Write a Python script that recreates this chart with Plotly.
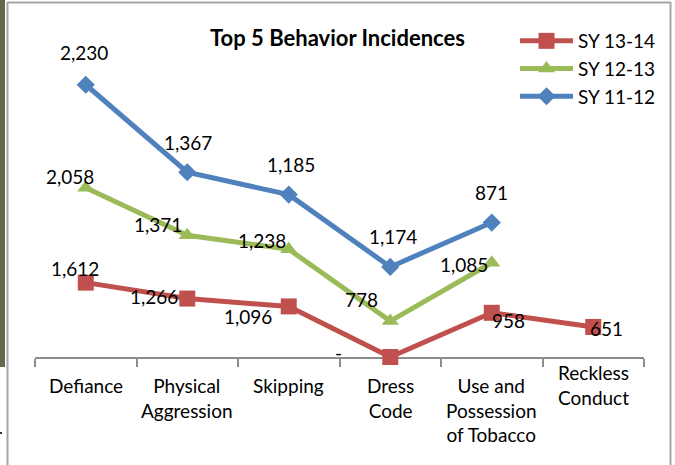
import plotly.graph_objects as go

# ---------------- data ----------------
categories = ["Defiance", "Physical Aggression", "Skipping", "Dress Code",
              "Use and Possession of Tobacco", "Reckless Conduct"]
tick_labels = ["Defiance", "Physical<br>Aggression", "Skipping", "Dress<br>Code",
               "Use and<br>Possession<br>of Tobacco", "Reckless<br>Conduct"]
series_names = ["SY 13-14", "SY 12-13", "SY 11-12"]
sy_13_14 = [1612, 1266, 1096, 0, 958, 651]
sy_12_13 = [2058, 1371, 1238, 778, 1085, None]
sy_11_12 = [2230, 1367, 1185, 1174, 871, None]
title_text = "Top 5 Behavior Incidences"

# ---------------- style ----------------
FONT = "Lato, Liberation Sans, Arial, sans-serif"
colors = ["#C0504D", "#9BBB59", "#4F81BD"]
symbols = ["square", "triangle-up", "diamond"]
marker_sizes = [16, 15, 14]
# label offsets (px, screen: +x right, +y down)
label_offsets = [
    [(-11, -14), (-33, -2), (-41, 10), (-52, -5), (17, 8), (13, 2)],
    [(-16, -11), (-29, -11), (-27, -9), (-29, -22), (-28, 2), None],
    [(-2, -32), (1, -30), (2, -30), (3, -30), (0, -30), None],
]
cat_label_shift = [-15, -15, -15, -15, -15, -2]

W, H = 675, 465
ML, MR, MT, MB = 35, 31, 34, 108
PW, PH = W - ML - MR, H - MT - MB
YMAX = 7000


def px2x(px):
    return (px - ML) / PW


def py2y(py):
    return (H - MB - py) / PH


# stacked (Excel "stacked line") cumulative values
series = [sy_13_14, sy_12_13, sy_11_12]
stacked = []
base = [0] * len(categories)
for vals in series:
    cum = []
    for i, v in enumerate(vals):
        if v is None or base[i] is None:
            cum.append(None)
        else:
            cum.append(base[i] + v)
    stacked.append(cum)
    base = cum

fig = go.Figure()
for k, (name, vals, cum) in enumerate(zip(series_names, series, stacked)):
    xs = [c for c, v in zip(categories, cum) if v is not None]
    ys = [v for v in cum if v is not None]
    fig.add_trace(go.Scatter(
        x=xs, y=ys, name=name, mode="lines+markers",
        line=dict(color=colors[k], width=5),
        marker=dict(symbol=symbols[k], size=marker_sizes[k], color=colors[k],
                    line=dict(width=0)),
        cliponaxis=False, hoverinfo="skip",
    ))

annotations = []
for k, (vals, cum) in enumerate(zip(series, stacked)):
    for i, (v, c) in enumerate(zip(vals, cum)):
        if v is None:
            continue
        dx, dy = label_offsets[k][i]
        annotations.append(dict(
            x=categories[i], y=c, xref="x", yref="y",
            text=(f"{v:,}" if v else "-"), showarrow=False,
            xshift=dx, yshift=-dy,
            font=dict(family=FONT, size=19, color="#000000"),
        ))

for i, (cat, lab) in enumerate(zip(categories, tick_labels)):
    annotations.append(dict(
        x=cat, y=0, xref="x", yref="y", text=lab, showarrow=False,
        yanchor="top", yshift=cat_label_shift[i], align="center",
        font=dict(family=FONT, size=19, color="#000000"),
    ))

shapes = [
    # dark strip at left edge
    dict(type="rect", xref="paper", yref="paper", x0=px2x(0), x1=px2x(5),
         y0=py2y(0), y1=py2y(367), fillcolor="#67674F", line=dict(width=0),
         layer="below"),
    # chart border
    dict(type="line", xref="paper", yref="paper", x0=px2x(7.5), x1=px2x(7.5),
         y0=py2y(2), y1=py2y(466), line=dict(color="#A6A6A6", width=2)),
    dict(type="line", xref="paper", yref="paper", x0=px2x(7.5), x1=px2x(670.5),
         y0=py2y(2.5), y1=py2y(2.5), line=dict(color="#A6A6A6", width=2)),
    dict(type="line", xref="paper", yref="paper", x0=px2x(670.5), x1=px2x(670.5),
         y0=py2y(2), y1=py2y(466), line=dict(color="#A6A6A6", width=2)),
    dict(type="rect", xref="paper", yref="paper", x0=px2x(0), x1=px2x(2),
         y0=py2y(432), y1=py2y(434), fillcolor="#333333", line=dict(width=0)),
]

fig.update_layout(
    width=W, height=H,
    margin=dict(l=ML, r=MR, t=MT, b=MB, autoexpand=False),
    paper_bgcolor="white", plot_bgcolor="white",
    title=dict(text=f"<b>{title_text}</b>", x=0.5, xref="container",
               y=1 - 38 / H, yref="container", yanchor="middle", xanchor="center",
               font=dict(family=FONT, size=22, color="#000000")),
    xaxis=dict(type="category", categoryorder="array", categoryarray=categories,
               range=[-0.5, len(categories) - 0.5], showgrid=False,
               showline=True, linecolor="#8C8C8C", linewidth=2,
               ticks="outside", tickson="boundaries", ticklen=8, tickwidth=2,
               tickcolor="#8C8C8C", showticklabels=False, layer="below traces",
               zeroline=False, fixedrange=True),
    yaxis=dict(range=[0, YMAX], visible=False, fixedrange=True),
    showlegend=True,
    legend=dict(x=px2x(515), y=py2y(22), xanchor="left", yanchor="top",
                itemwidth=53, bgcolor="rgba(0,0,0,0)",
                font=dict(family=FONT, size=19, color="#000000"),
                traceorder="normal"),
    annotations=annotations,
    shapes=shapes,
)

fig.write_html("out.html",
               config={"displayModeBar": False, "staticPlot": True},
               post_script="document.body.style.margin='0px';document.body.style.overflow='hidden';")
